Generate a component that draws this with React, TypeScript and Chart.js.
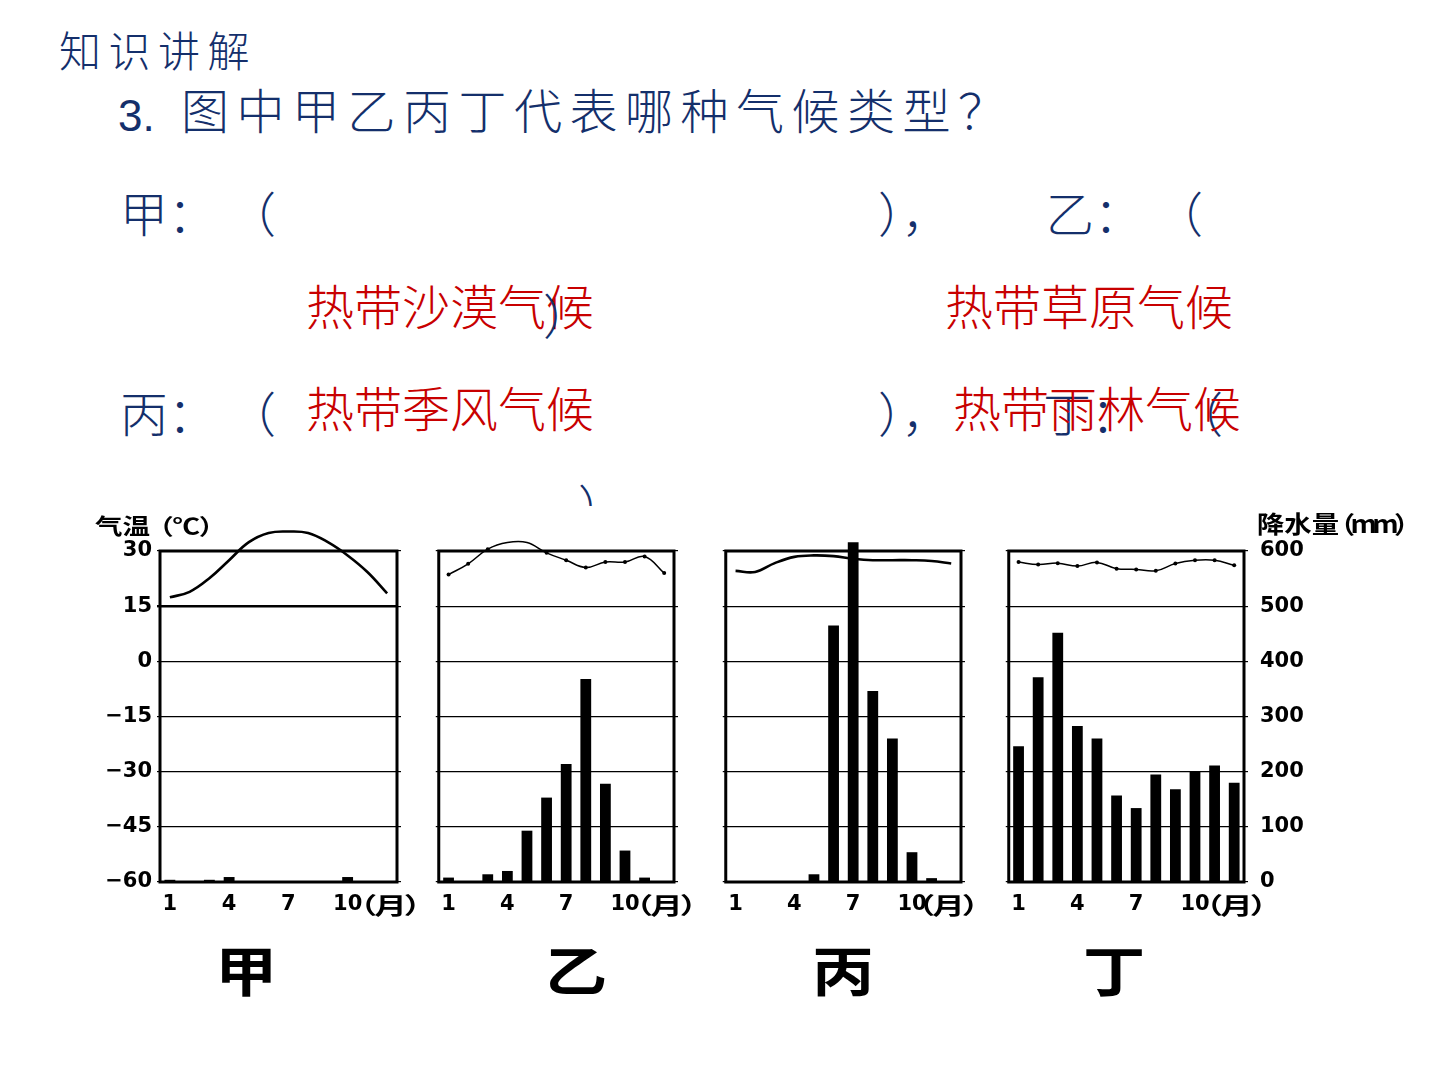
import React, { useEffect, useRef } from 'react';
import { Chart, registerables } from 'chart.js';

Chart.register(...registerables);

// ---- data ----
const months = ['1', '2', '3', '4', '5', '6', '7', '8', '9', '10', '11', '12'];
const shownMonths = ['1', '4', '7', '10'];

const jiaTemp = [17.4, 18.9, 22.6, 27.5, 32.4, 34.9, 35.3, 34.9, 32.4, 28.8, 24.3, 18.5];
const jiaRain = [4, 0, 4, 9, 0, 0, 0, 0, 0, 9, 0, 0];

const yiTemp = [23.6, 26.5, 30.5, 32.3, 32.3, 29.5, 27.5, 25.5, 27.0, 27.0, 28.5, 24.0];
const yiRain = [8, 0, 14, 20, 93, 153, 214, 368, 178, 57, 8, 0];

const bingTemp = [24.6, 24.3, 26.7, 28.4, 28.8, 28.6, 27.9, 27.5, 27.5, 27.5, 27.3, 26.6];
const bingRain = [0, 0, 0, 0, 14, 465, 616, 346, 260, 54, 7, 0];

const dingTemp = [27.0, 26.3, 26.7, 25.9, 26.9, 25.2, 25.0, 24.6, 26.6, 27.5, 27.5, 26.1];
const dingRain = [246, 371, 452, 283, 260, 157, 134, 195, 168, 201, 211, 180];

const tempMin = -60;
const tempMax = 30;
const tempStep = 15;
const rainMin = 0;
const rainMax = 600;
const rainStep = 100;

const panelNames = ['甲', '乙', '丙', '丁'];

// ---- layout ----
const BOX_TOP = 551;
const BOX_H = 331;
const BOX_W = 237;
const TOP_PAD = 40;
const BOTTOM_AX = 45;
const NAVY = '#142f6b';
const RED = '#c80000';
const TICK_FONT = { family: '"DejaVu Sans", sans-serif', size: 21, weight: 'bold' as const };
const CJK = '"Noto Sans CJK SC", sans-serif';

const boxPlugin = {
  id: 'boxBorder',
  beforeDatasetsDraw(chart: any) {
    const { ctx, chartArea } = chart;
    const { left, top, right, bottom } = chartArea;
    ctx.save();
    ctx.strokeStyle = '#000';
    ctx.lineWidth = 3;
    ctx.strokeRect(left, top, right - left, bottom - top);
    ctx.restore();
  },
};

type Panel = {
  temp: number[];
  rain: number[];
  boxLeft: number;
  L: number;
  R: number;
  leftLabels: boolean;
  rightLabels: boolean;
  lineWidth: number;
  dots: boolean;
  thick15: boolean;
  monthX: number;
};

const panels: Panel[] = [
  { temp: jiaTemp, rain: jiaRain, boxLeft: 160, L: 80, R: 6, leftLabels: true, rightLabels: false, lineWidth: 2.6, dots: false, thick15: true, monthX: 345 },
  { temp: yiTemp, rain: yiRain, boxLeft: 437, L: 6, R: 6, leftLabels: false, rightLabels: false, lineWidth: 1.5, dots: true, thick15: false, monthX: 621 },
  { temp: bingTemp, rain: bingRain, boxLeft: 724, L: 6, R: 6, leftLabels: false, rightLabels: false, lineWidth: 2.6, dots: false, thick15: false, monthX: 903 },
  { temp: dingTemp, rain: dingRain, boxLeft: 1007, L: 6, R: 90, leftLabels: false, rightLabels: true, lineWidth: 1.5, dots: true, thick15: false, monthX: 1191 },
];

function ClimateChart({ p }: { p: Panel }) {
  const ref = useRef<HTMLCanvasElement | null>(null);
  const width = BOX_W + p.L + p.R;
  const height = BOX_H + TOP_PAD + BOTTOM_AX;
  useEffect(() => {
    if (!ref.current) return;
    const chart = new Chart(ref.current, {
      type: 'bar',
      data: {
        labels: months,
        datasets: [
          {
            type: 'line',
            data: p.temp,
            yAxisID: 'y',
            borderColor: '#000',
            borderWidth: p.lineWidth,
            tension: 0.4,
            pointRadius: p.dots ? 2 : 0,
            pointBackgroundColor: '#000',
            pointBorderWidth: 0,
            clip: false,
            order: 0,
          } as any,
          {
            type: 'bar',
            data: p.rain,
            yAxisID: 'y2',
            backgroundColor: '#000',
            barPercentage: 0.55,
            categoryPercentage: 1,
            clip: false,
            order: 1,
          } as any,
        ],
      },
      options: {
        animation: false,
        responsive: false,
        maintainAspectRatio: false,
        layout: { padding: { top: TOP_PAD, left: 0, right: 0, bottom: 0 } },
        plugins: { legend: { display: false }, tooltip: { enabled: false } },
        scales: {
          x: {
            offset: true,
            grid: { display: false, drawTicks: false },
            border: { display: false },
            ticks: {
              autoSkip: false,
              maxRotation: 0,
              padding: 10,
              color: '#000',
              font: TICK_FONT,
              callback: (_v: any, i: number) => (shownMonths.includes(months[i]) ? months[i] : ''),
            },
            afterFit: (s: any) => {
              s.height = BOTTOM_AX;
            },
          },
          y: {
            position: 'left',
            min: tempMin,
            max: tempMax,
            ticks: {
              stepSize: tempStep,
              display: p.leftLabels,
              padding: 5,
              color: '#000',
              font: TICK_FONT,
              callback: (v: any) => (v < 0 ? '\u2212' + Math.abs(v) : String(v)),
            },
            grid: {
              color: '#000',
              lineWidth: (c: any) => (p.thick15 && c.tick && c.tick.value === 15 ? 2.4 : 1.2),
              drawTicks: true,
              tickLength: 3,
            },
            border: { display: false },
            afterFit: (s: any) => {
              s.width = p.L;
            },
          },
          y2: {
            position: 'right',
            min: rainMin,
            max: rainMax,
            ticks: {
              stepSize: rainStep,
              display: p.rightLabels,
              padding: 12,
              color: '#000',
              font: TICK_FONT,
            },
            grid: { color: '#000', lineWidth: 1.2, drawOnChartArea: false, drawTicks: true, tickLength: 4 },
            border: { display: false },
            afterFit: (s: any) => {
              s.width = p.R;
            },
          },
        },
      } as any,
      plugins: [boxPlugin],
    });
    return () => chart.destroy();
  }, []);
  return (
    <canvas
      ref={ref}
      width={width}
      height={height}
      style={{ position: 'absolute', left: p.boxLeft - p.L, top: BOX_TOP - TOP_PAD, width, height }}
    />
  );
}

const abs = (left: number, top: number, extra: React.CSSProperties = {}): React.CSSProperties => ({
  position: 'absolute',
  left,
  top,
  lineHeight: 1,
  whiteSpace: 'pre',
  margin: 0,
  ...extra,
});

export default function App() {
  const navy48: React.CSSProperties = { fontFamily: CJK, fontSize: 48, fontWeight: 300, color: NAVY };
  const red48: React.CSSProperties = { fontFamily: CJK, fontSize: 48, fontWeight: 300, color: RED };
  const chartLbl: React.CSSProperties = { fontFamily: CJK, fontWeight: 700, color: '#000' };
  const bigCenters = [246, 576, 843, 1114];
  return (
    <div style={{ position: 'fixed', left: 0, top: 0, width: 1440, height: 1080, background: '#fff', overflow: 'hidden' }}>
      <div style={abs(59, 28, { fontFamily: CJK, fontSize: 42, fontWeight: 300, color: NAVY, letterSpacing: 7.5 })}>知识讲解</div>
      <div style={abs(118, 94, { fontFamily: '"Liberation Sans", Arial, sans-serif', fontSize: 44, color: NAVY })}>3.</div>
      <div style={abs(181, 84, { ...navy48, letterSpacing: 7.5 })}>图中甲乙丙丁代表哪种气候类型？</div>

      <div style={abs(120, 187, navy48)}>甲：</div>
      <div style={abs(228, 187, navy48)}>（</div>
      <div style={abs(878, 187, navy48)}>），</div>
      <div style={abs(1046, 187, navy48)}>乙：</div>
      <div style={abs(1155, 187, navy48)}>（</div>

      <div style={abs(306, 280, red48)}>热带沙漠气候</div>
      <div style={abs(543, 289, navy48)}>）</div>
      <div style={abs(945, 280, red48)}>热带草原气候</div>

      <div style={abs(120, 387, navy48)}>丙：</div>
      <div style={abs(228, 387, navy48)}>（</div>
      <div style={abs(306, 382, red48)}>热带季风气候</div>
      <div style={abs(878, 387, navy48)}>），</div>
      <div style={abs(1043, 387, navy48)}>丁：</div>
      <div style={abs(1175, 387, navy48)}>（</div>
      <div style={abs(953, 382, red48)}>热带雨林气候</div>

      <div style={abs(578, 480, { height: 26, overflow: 'hidden' })}>
        <span style={navy48}>）</span>
      </div>

      {panels.map((p, i) => (
        <ClimateChart key={i} p={p} />
      ))}

      <div style={abs(95, 513, { ...chartLbl, fontSize: 22, transform: 'scaleX(1.25)', transformOrigin: 'left top' })}>
        气温<span style={{ marginLeft: -3, letterSpacing: -1 }}>（℃）</span>
      </div>
      <div style={abs(1257, 511, { ...chartLbl, fontSize: 24, transform: 'scaleX(1.14)', transformOrigin: 'left top' })}>
        降水量<span style={{ marginLeft: -10, letterSpacing: -4 }}>（mm）</span>
      </div>

      {panels.map((p, i) => (
        <div
          key={'m' + i}
          style={abs(p.monthX, 893, { ...chartLbl, fontSize: 23, letterSpacing: -2, transform: 'scaleX(1.4)', transformOrigin: 'left top' })}
        >
          （月）
        </div>
      ))}

      {panelNames.map((n, i) => (
        <div
          key={'n' + i}
          style={abs(bigCenters[i] - 50, 942, { ...chartLbl, fontSize: 54, width: 100, textAlign: 'center', transform: 'scaleX(1.15)' })}
        >
          {n}
        </div>
      ))}
    </div>
  );
}
